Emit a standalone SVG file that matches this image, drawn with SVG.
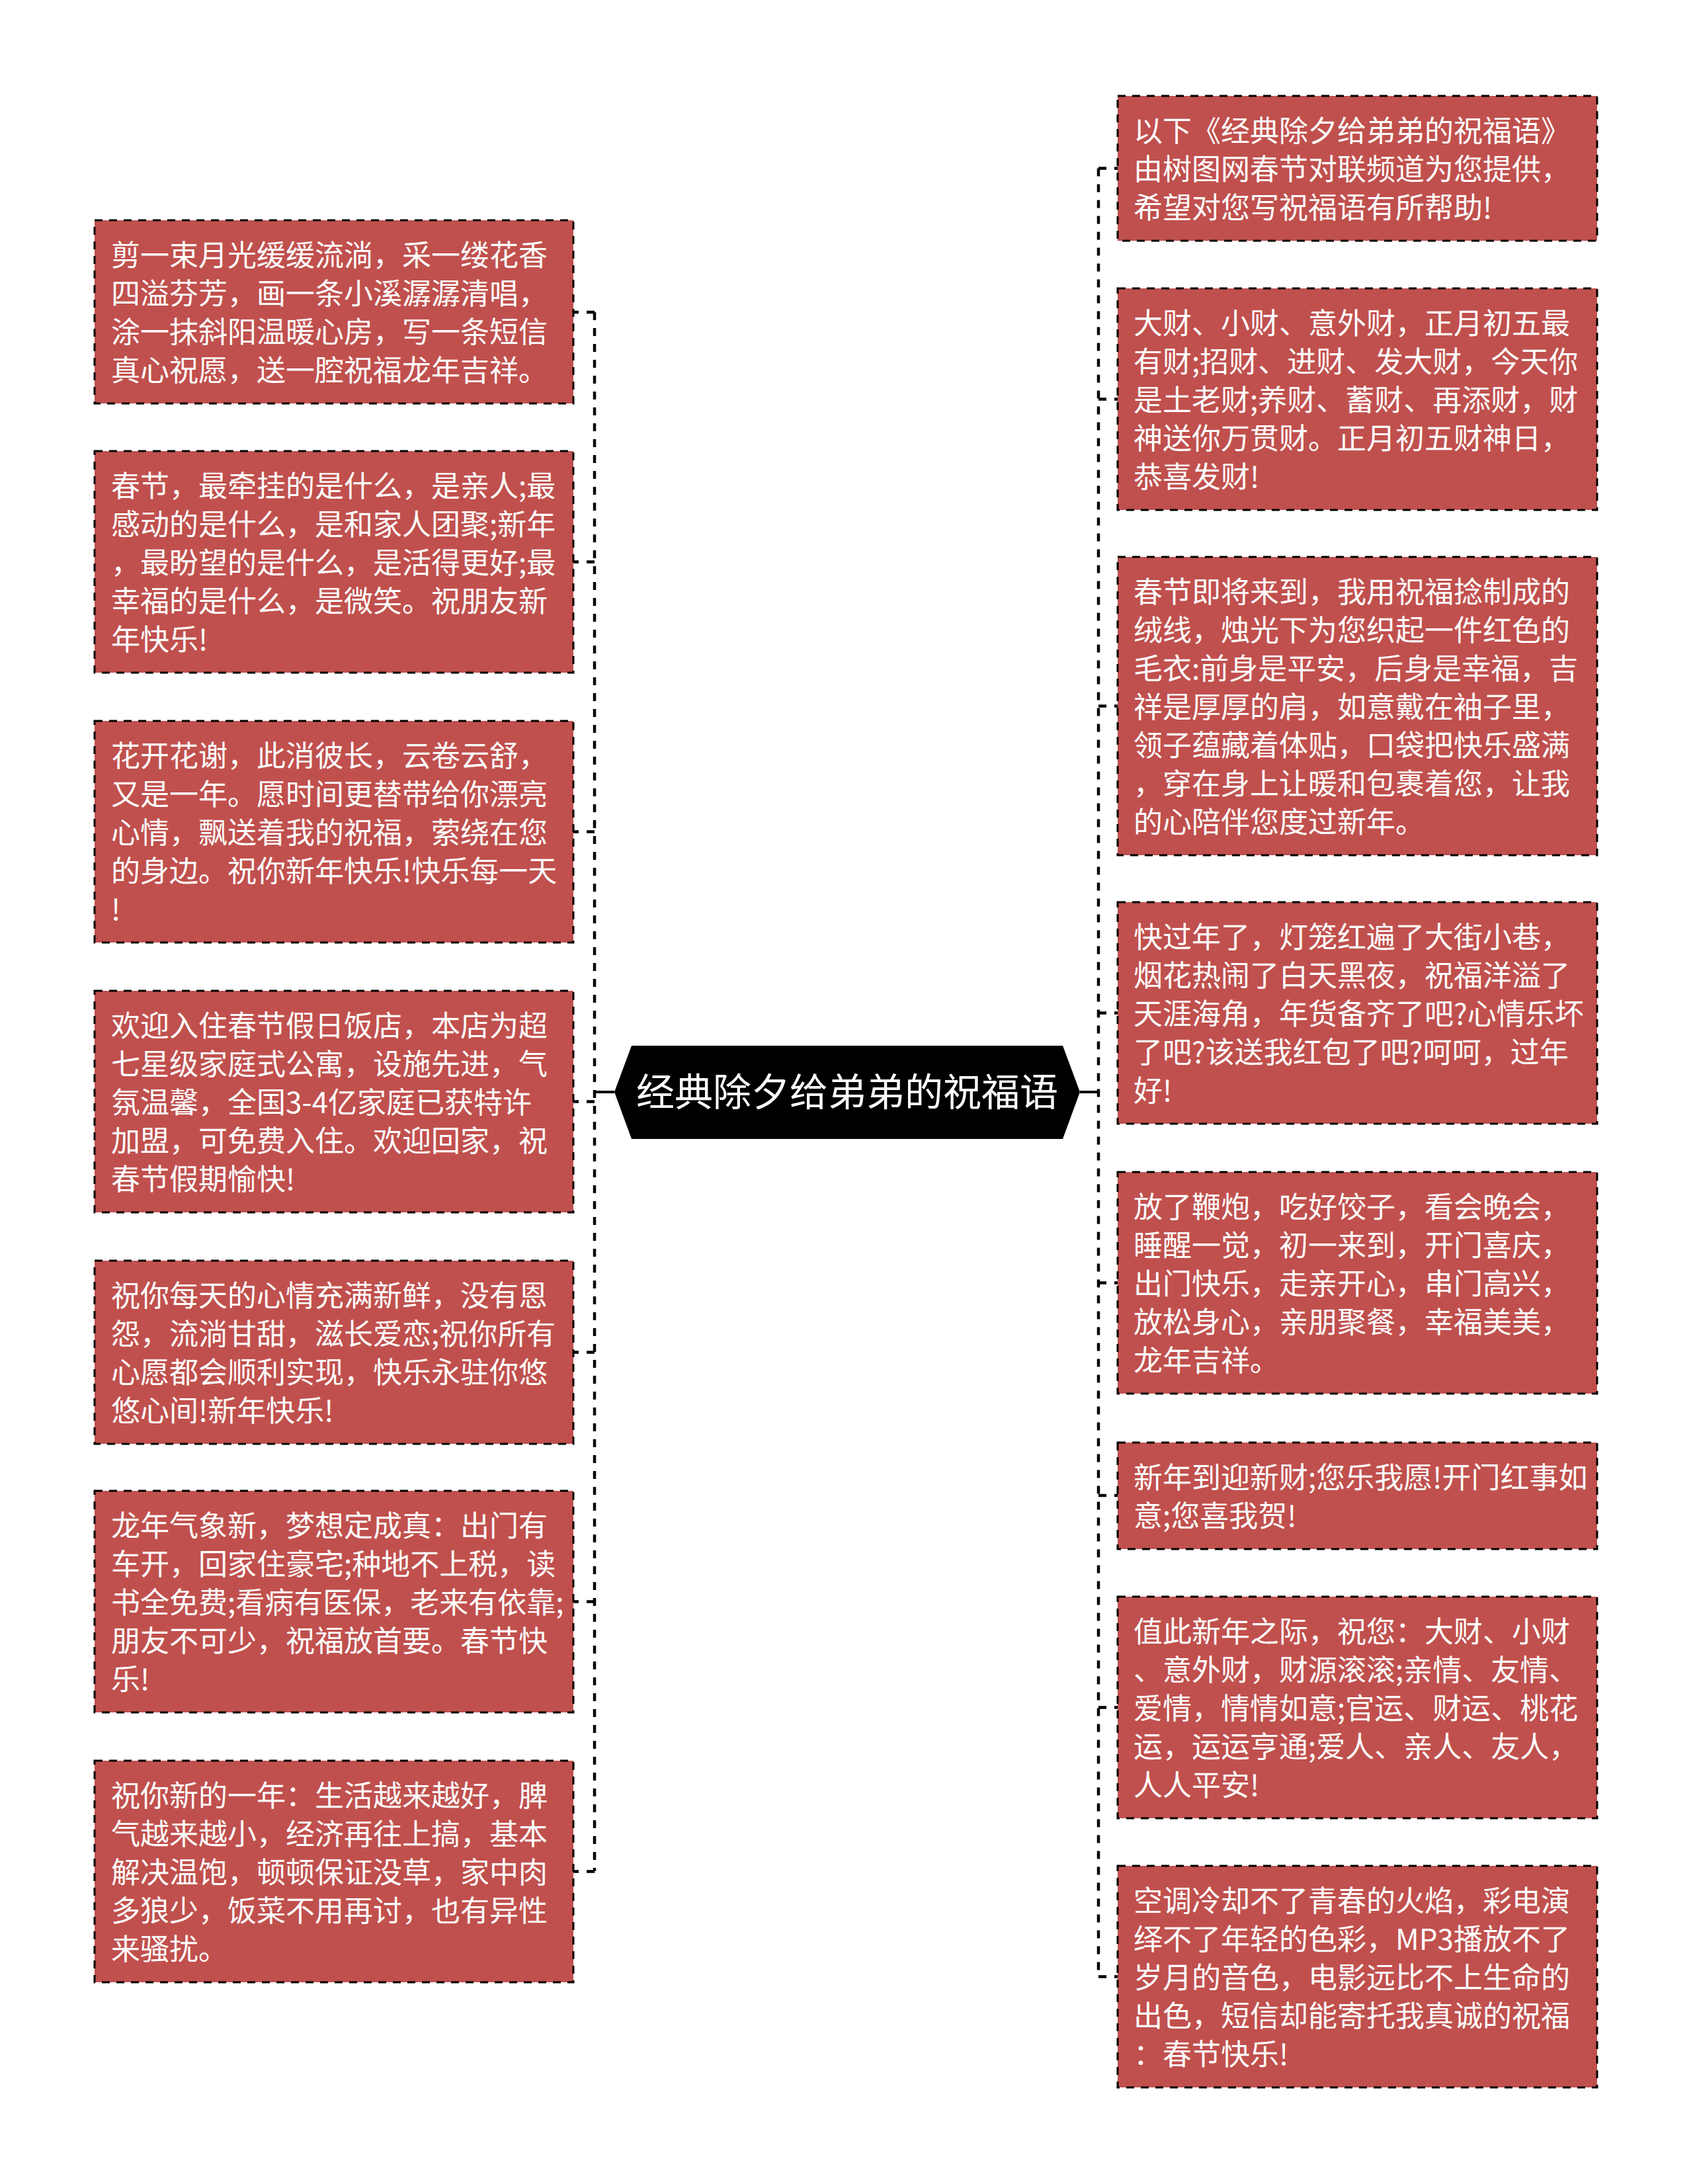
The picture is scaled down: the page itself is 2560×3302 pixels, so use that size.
<svg xmlns="http://www.w3.org/2000/svg" width="2560" height="3302" viewBox="0 0 2560 3302">
<style>
.box{fill:#C0504D;stroke:#000;stroke-width:3;stroke-dasharray:12 10}
.t{fill:#fff;font-family:"Noto Sans CJK SC","Microsoft YaHei",sans-serif;font-size:44px}
.ct{fill:#fff;font-family:"Noto Sans CJK SC","Microsoft YaHei",sans-serif;font-size:58px;text-anchor:middle}
.dl{fill:none;stroke:#000;stroke-width:4.5;stroke-dasharray:12 12}
.sl{fill:none;stroke:#000;stroke-width:4}
</style>
<rect width="2560" height="3302" fill="#fff"/>
<g id="connectors">
<path class="sl" d="M929 1651H899"/>
<path class="dl" d="M899 472V2829"/>
<path class="dl" d="M899 472H867M899 849.5H867M899 1257.5H867M899 1665.5H867M899 2044.5H867M899 2421.5H867M899 2829.5H867"/>
<path class="sl" d="M1633 1651H1661"/>
<path class="dl" d="M1661 254.5V2988.5"/>
<path class="dl" d="M1661 254.5H1690M1661 603.5H1690M1661 1067.5H1690M1661 1531.5H1690M1661 1939.5H1690M1661 2261H1690M1661 2581.5H1690M1661 2988.5H1690"/>
</g>
<g id="center">
<polygon points="929,1651 955,1581 1607,1581 1633,1651 1607,1722 955,1722" fill="#000"/>
<text class="ct" x="1281" y="1672">经典除夕给弟弟的祝福语</text>
</g>
<g id="L1">
<rect class="box" x="143" y="333" width="724" height="277"/>
<text class="t"><tspan x="168" y="402">剪一束月光缓缓流淌，采一缕花香</tspan><tspan x="168" y="460">四溢芬芳，画一条小溪潺潺清唱，</tspan><tspan x="168" y="518">涂一抹斜阳温暖心房，写一条短信</tspan><tspan x="168" y="576">真心祝愿，送一腔祝福龙年吉祥。</tspan></text>
</g>
<g id="L2">
<rect class="box" x="143" y="682" width="724" height="335"/>
<text class="t"><tspan x="168" y="751">春节，最牵挂的是什么，是亲人;最</tspan><tspan x="168" y="809">感动的是什么，是和家人团聚;新年</tspan><tspan x="168" y="867">，最盼望的是什么，是活得更好;最</tspan><tspan x="168" y="925">幸福的是什么，是微笑。祝朋友新</tspan><tspan x="168" y="983">年快乐!</tspan></text>
</g>
<g id="L3">
<rect class="box" x="143" y="1090" width="724" height="335"/>
<text class="t"><tspan x="168" y="1159">花开花谢，此消彼长，云卷云舒，</tspan><tspan x="168" y="1217">又是一年。愿时间更替带给你漂亮</tspan><tspan x="168" y="1275">心情，飘送着我的祝福，萦绕在您</tspan><tspan x="168" y="1333">的身边。祝你新年快乐!快乐每一天</tspan><tspan x="168" y="1391">!</tspan></text>
</g>
<g id="L4">
<rect class="box" x="143" y="1498" width="724" height="335"/>
<text class="t"><tspan x="168" y="1567">欢迎入住春节假日饭店，本店为超</tspan><tspan x="168" y="1625">七星级家庭式公寓，设施先进，气</tspan><tspan x="168" y="1683">氛温馨，全国3-4亿家庭已获特许</tspan><tspan x="168" y="1741">加盟，可免费入住。欢迎回家，祝</tspan><tspan x="168" y="1799">春节假期愉快!</tspan></text>
</g>
<g id="L5">
<rect class="box" x="143" y="1906" width="724" height="277"/>
<text class="t"><tspan x="168" y="1975">祝你每天的心情充满新鲜，没有恩</tspan><tspan x="168" y="2033">怨，流淌甘甜，滋长爱恋;祝你所有</tspan><tspan x="168" y="2091">心愿都会顺利实现，快乐永驻你悠</tspan><tspan x="168" y="2149">悠心间!新年快乐!</tspan></text>
</g>
<g id="L6">
<rect class="box" x="143" y="2254" width="724" height="335"/>
<text class="t"><tspan x="168" y="2323">龙年气象新，梦想定成真：出门有</tspan><tspan x="168" y="2381">车开，回家住豪宅;种地不上税，读</tspan><tspan x="168" y="2439">书全免费;看病有医保，老来有依靠;</tspan><tspan x="168" y="2497">朋友不可少，祝福放首要。春节快</tspan><tspan x="168" y="2555">乐!</tspan></text>
</g>
<g id="L7">
<rect class="box" x="143" y="2662" width="724" height="335"/>
<text class="t"><tspan x="168" y="2731">祝你新的一年：生活越来越好，脾</tspan><tspan x="168" y="2789">气越来越小，经济再往上搞，基本</tspan><tspan x="168" y="2847">解决温饱，顿顿保证没草，家中肉</tspan><tspan x="168" y="2905">多狼少，饭菜不用再讨，也有异性</tspan><tspan x="168" y="2963">来骚扰。</tspan></text>
</g>
<g id="R1">
<rect class="box" x="1690" y="145" width="725" height="219"/>
<text class="t"><tspan x="1714" y="214">以下《经典除夕给弟弟的祝福语》</tspan><tspan x="1714" y="272">由树图网春节对联频道为您提供，</tspan><tspan x="1714" y="330">希望对您写祝福语有所帮助!</tspan></text>
</g>
<g id="R2">
<rect class="box" x="1690" y="436" width="725" height="335"/>
<text class="t"><tspan x="1714" y="505">大财、小财、意外财，正月初五最</tspan><tspan x="1714" y="563">有财;招财、进财、发大财，今天你</tspan><tspan x="1714" y="621">是土老财;养财、蓄财、再添财，财</tspan><tspan x="1714" y="679">神送你万贯财。正月初五财神日，</tspan><tspan x="1714" y="737">恭喜发财!</tspan></text>
</g>
<g id="R3">
<rect class="box" x="1690" y="842" width="725" height="451"/>
<text class="t"><tspan x="1714" y="911">春节即将来到，我用祝福捻制成的</tspan><tspan x="1714" y="969">绒线，烛光下为您织起一件红色的</tspan><tspan x="1714" y="1027">毛衣:前身是平安，后身是幸福，吉</tspan><tspan x="1714" y="1085">祥是厚厚的肩，如意戴在袖子里，</tspan><tspan x="1714" y="1143">领子蕴藏着体贴，口袋把快乐盛满</tspan><tspan x="1714" y="1201">，穿在身上让暖和包裹着您，让我</tspan><tspan x="1714" y="1259">的心陪伴您度过新年。</tspan></text>
</g>
<g id="R4">
<rect class="box" x="1690" y="1364" width="725" height="335"/>
<text class="t"><tspan x="1714" y="1433">快过年了，灯笼红遍了大街小巷，</tspan><tspan x="1714" y="1491">烟花热闹了白天黑夜，祝福洋溢了</tspan><tspan x="1714" y="1549">天涯海角，年货备齐了吧?心情乐坏</tspan><tspan x="1714" y="1607">了吧?该送我红包了吧?呵呵，过年</tspan><tspan x="1714" y="1665">好!</tspan></text>
</g>
<g id="R5">
<rect class="box" x="1690" y="1772" width="725" height="335"/>
<text class="t"><tspan x="1714" y="1841">放了鞭炮，吃好饺子，看会晚会，</tspan><tspan x="1714" y="1899">睡醒一觉，初一来到，开门喜庆，</tspan><tspan x="1714" y="1957">出门快乐，走亲开心，串门高兴，</tspan><tspan x="1714" y="2015">放松身心，亲朋聚餐，幸福美美，</tspan><tspan x="1714" y="2073">龙年吉祥。</tspan></text>
</g>
<g id="R6">
<rect class="box" x="1690" y="2181" width="725" height="161"/>
<text class="t"><tspan x="1714" y="2250">新年到迎新财;您乐我愿!开门红事如</tspan><tspan x="1714" y="2308">意;您喜我贺!</tspan></text>
</g>
<g id="R7">
<rect class="box" x="1690" y="2414" width="725" height="335"/>
<text class="t"><tspan x="1714" y="2483">值此新年之际，祝您：大财、小财</tspan><tspan x="1714" y="2541">、意外财，财源滚滚;亲情、友情、</tspan><tspan x="1714" y="2599">爱情，情情如意;官运、财运、桃花</tspan><tspan x="1714" y="2657">运，运运亨通;爱人、亲人、友人，</tspan><tspan x="1714" y="2715">人人平安!</tspan></text>
</g>
<g id="R8">
<rect class="box" x="1690" y="2821" width="725" height="335"/>
<text class="t"><tspan x="1714" y="2890">空调冷却不了青春的火焰，彩电演</tspan><tspan x="1714" y="2948">绎不了年轻的色彩，MP3播放不了</tspan><tspan x="1714" y="3006">岁月的音色，电影远比不上生命的</tspan><tspan x="1714" y="3064">出色，短信却能寄托我真诚的祝福</tspan><tspan x="1714" y="3122">：春节快乐!</tspan></text>
</g>
</svg>
